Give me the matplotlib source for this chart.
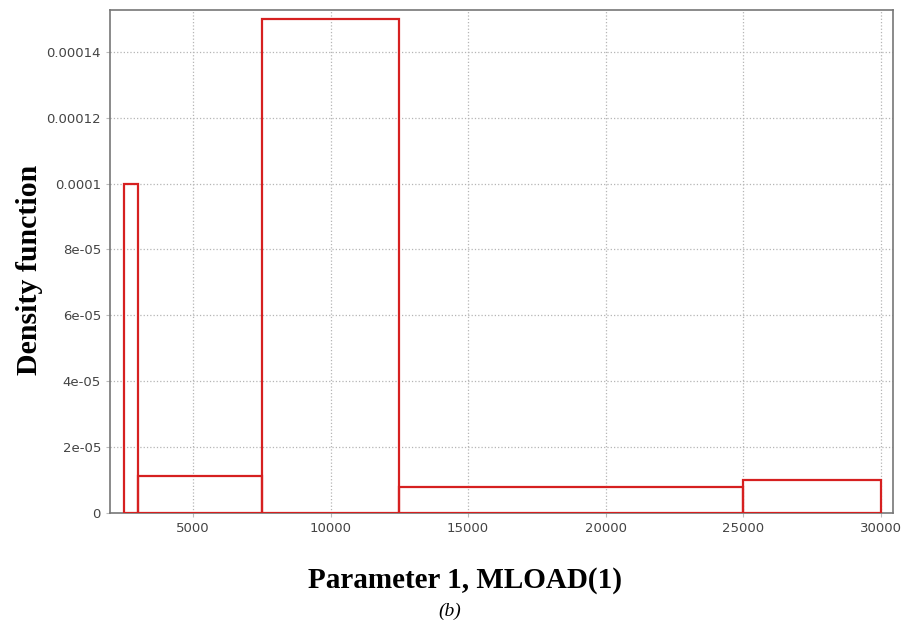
import matplotlib
matplotlib.use("Agg")
import matplotlib.pyplot as plt
import numpy as np

# histogram bins of the sampled parameter and their density heights
bin_edges = [2500, 3000, 7500, 12500, 25000, 30000]
densities = [1.0e-4, 1.111e-5, 1.5e-4, 8.0e-6, 1.0e-5]

x_ticks = [5000, 10000, 15000, 20000, 25000, 30000]
y_ticks = [0, 2e-05, 4e-05, 6e-05, 8e-05, 0.0001, 0.00012, 0.00014]
y_tick_labels = ["0", "2e-05", "4e-05", "6e-05", "8e-05", "0.0001", "0.00012", "0.00014"]

fig = plt.figure(figsize=(9.05, 6.32), dpi=100)
ax = fig.add_axes([0.1215, 0.1883, 0.865, 0.796])

edges = np.array(bin_edges)
ax.bar(edges[:-1], densities, width=np.diff(edges), align="edge",
       fill=False, edgecolor="#d62020", linewidth=1.6, zorder=3)

ax.set_xlim(1980, 30440)
ax.set_ylim(0, 0.0001527)
ax.set_xticks(x_ticks)
ax.set_xticklabels([str(t) for t in x_ticks])
ax.set_yticks(y_ticks)
ax.set_yticklabels(y_tick_labels)
ax.tick_params(labelsize=9.5, labelcolor="#444444", color="#bbbbbb", length=3)
ax.grid(True, linestyle=":", color="#b5b5b5", linewidth=0.9, zorder=0)
for s in ax.spines.values():
    s.set_color("#777777")
    s.set_linewidth(1.2)

fig.text(0.033, 0.573, "Density function", rotation=90, ha="center", va="center",
         family="Liberation Serif", fontweight="bold", fontsize=21.5)
fig.text(0.514, 0.082, "Parameter 1, MLOAD(1)", ha="center", va="center",
         family="Liberation Serif", fontweight="bold", fontsize=21)
fig.text(0.497, 0.032, "(b)", ha="center", va="center",
         family="Liberation Serif", style="italic", fontsize=14)

fig.savefig("out.png", dpi=100)
